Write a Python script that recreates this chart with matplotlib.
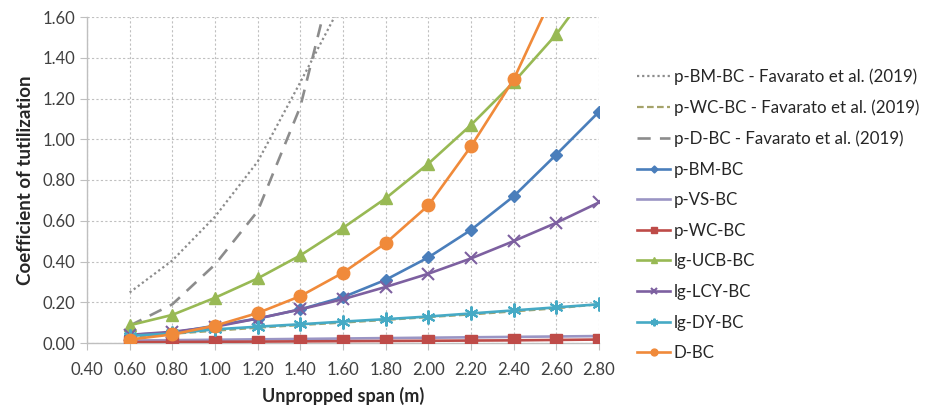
import matplotlib
matplotlib.use("Agg")
import matplotlib.pyplot as plt

plt.rcParams['font.family'] = ['Lato', 'DejaVu Sans']

span = [0.60, 0.80, 1.00, 1.20, 1.40, 1.60, 1.80, 2.00, 2.20, 2.40, 2.60, 2.80]

fav_span = [0.60, 0.80, 1.00, 1.20, 1.40, 1.60]
fav_p_bm_bc = [0.248, 0.405, 0.62, 0.89, 1.28, 1.68]
fav_p_d_bc = [0.085, 0.19, 0.385, 0.647, 1.16, 2.00]
fav_p_wc_bc = [0.030, 0.045, 0.060, 0.075, 0.088, 0.100, 0.113, 0.127, 0.140, 0.155, 0.170, 0.190]

p_bm_bc = [0.040, 0.050, 0.085, 0.120, 0.165, 0.225, 0.310, 0.420, 0.555, 0.720, 0.925, 1.135]
p_vs_bc = [0.012, 0.014, 0.016, 0.018, 0.020, 0.022, 0.024, 0.026, 0.028, 0.030, 0.032, 0.034]
p_wc_bc = [0.004, 0.005, 0.006, 0.007, 0.008, 0.009, 0.010, 0.011, 0.012, 0.013, 0.015, 0.017]
lg_ucb_bc = [0.087, 0.138, 0.222, 0.317, 0.430, 0.565, 0.710, 0.880, 1.070, 1.280, 1.515, 1.800]
lg_lcy_bc = [0.040, 0.055, 0.080, 0.120, 0.165, 0.215, 0.275, 0.340, 0.415, 0.500, 0.590, 0.690]
lg_dy_bc = [0.035, 0.047, 0.067, 0.080, 0.092, 0.105, 0.117, 0.130, 0.145, 0.160, 0.175, 0.190]
d_bc = [0.017, 0.042, 0.085, 0.147, 0.230, 0.345, 0.490, 0.675, 0.965, 1.294, 1.744, 2.300]

xticks = [0.40, 0.60, 0.80, 1.00, 1.20, 1.40, 1.60, 1.80, 2.00, 2.20, 2.40, 2.60, 2.80]
yticks = [0.00, 0.20, 0.40, 0.60, 0.80, 1.00, 1.20, 1.40, 1.60]

fig = plt.figure(figsize=(9.33, 4.12), dpi=100)
ax = fig.add_axes([87/933, 1-343/412, (599-87)/933, (343-17)/412])

lw = 1.9
ax.plot(fav_span, fav_p_bm_bc, linestyle=(0, (1, 1.3)), color='#8c8c8c', lw=1.6,
        label='p-BM-BC - Favarato et al. (2019)', zorder=3)
ax.plot(span, fav_p_wc_bc, linestyle=(0, (3, 1.5)), color='#a5a36a', lw=1.6,
        label='p-WC-BC - Favarato et al. (2019)', zorder=3)
ax.plot(fav_span, fav_p_d_bc, linestyle=(0, (5, 3.5)), color='#8c8c8c', lw=1.9,
        label='p-D-BC - Favarato et al. (2019)', zorder=3)
ax.plot(span, p_bm_bc, color='#4a7ebb', lw=lw, marker='D', ms=6.5, label='p-BM-BC', zorder=4)
ax.plot(span, p_vs_bc, color='#9a95c4', lw=lw, label='p-VS-BC', zorder=4)
ax.plot(span, p_wc_bc, color='#be4b48', lw=lw, marker='s', ms=8, label='p-WC-BC', zorder=4)
ax.plot(span, lg_ucb_bc, color='#98b954', lw=lw, marker='^', ms=9, label='lg-UCB-BC', zorder=4)
ax.plot(span, lg_lcy_bc, color='#7d60a0', lw=lw, marker='x', ms=9, mew=1.5, label='lg-LCY-BC', zorder=4)
ax.plot(span, lg_dy_bc, color='#46aac5', lw=lw, marker=(6, 2, 0), ms=10, mew=1.5, label='lg-DY-BC', zorder=4)
ax.plot(span, d_bc, color='#f08a3a', lw=lw, marker='o', ms=9, label='D-BC', zorder=5)

ax.set_xlim(0.40, 2.80)
ax.set_ylim(0.00, 1.60)
ax.set_xticks(xticks)
ax.set_yticks(yticks)
ax.set_xticklabels([f'{v:.2f}' for v in xticks])
ax.set_yticklabels([f'{v:.2f}' for v in yticks])
ax.grid(True, linestyle=(0, (2, 2)), color='#c0c0c0', lw=0.8)
ax.set_axisbelow(True)
for s in ['top', 'right']:
    ax.spines[s].set_visible(False)
for s in ['left', 'bottom']:
    ax.spines[s].set_color('#bfbfbf')
    ax.spines[s].set_linewidth(1.0)
ax.tick_params(axis='both', colors='#bfbfbf', labelcolor='#404040', labelsize=12, length=5)
ax.tick_params(axis='x', pad=9)
ax.set_xlabel('Unpropped span (m)', fontsize=13, fontweight='bold', color='#262626', labelpad=6)
ax.set_ylabel('Coefficient of tutilization', fontsize=13.5, fontweight='bold', color='#262626', labelpad=6)

leg = fig.legend(loc='upper left', bbox_to_anchor=(622/933, 1-53/412), frameon=False,
                 fontsize=12.2, labelspacing=0.86, handlelength=1.95, handletextpad=0.2,
                 markerscale=0.55, labelcolor='#262626')

fig.savefig('out.png', dpi=100)
